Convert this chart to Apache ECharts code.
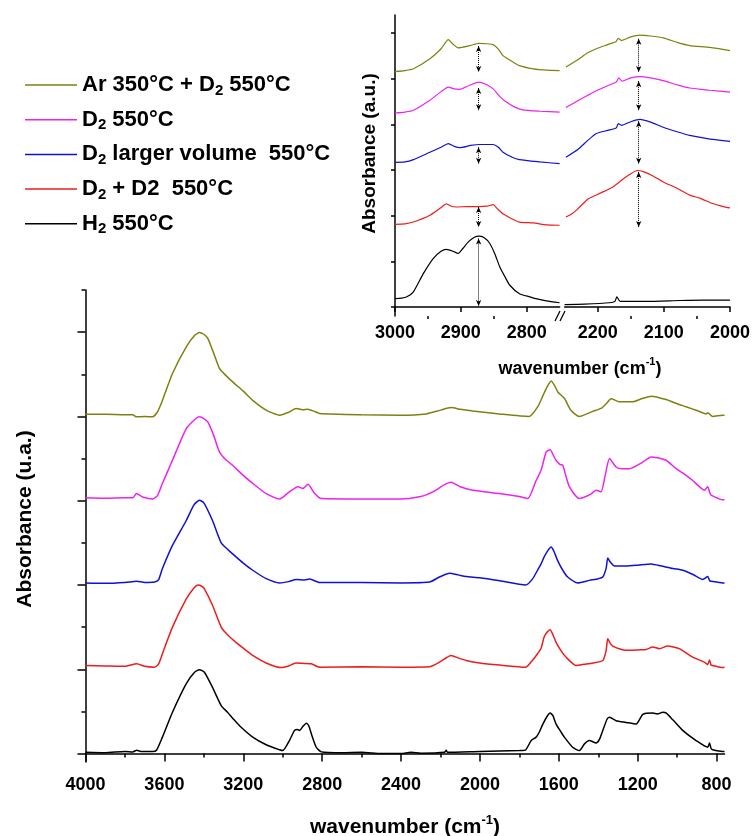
<!DOCTYPE html>
<html><head><meta charset="utf-8">
<script src="https://cdn.jsdelivr.net/npm/echarts@6/dist/echarts.min.js"></script>
<style>html,body{margin:0;padding:0;background:#fff}#c{width:752px;height:836px}</style>
</head><body><div id="c"></div>
<script>
// ---------- DATA ----------
const seriesNames = ['Ar 350°C + D2 550°C', 'D2 550°C', 'D2 larger volume  550°C', 'D2 + D2  550°C', 'H2 550°C'];
const seriesColors = ['#808010', '#ee22ee', '#1010d8', '#ee1c1c', '#000000'];
const mainOffsets = [8, 6, 4, 2, 0];

// main spectra: [wavenumber, absorbance relative to own baseline]
const oliveMain = [[4000,0.05],[3900,0.05],[3800,0.04],[3761,0.04],[3741,-0.01],[3700,0.0],[3660,-0.01],[3635,0.11],[3610,0.38],[3559,1.02],[3489,1.65],[3445,1.93],[3422,1.99],[3400,1.95],[3380,1.85],[3350,1.5],[3321,1.14],[3290,0.98],[3254,0.82],[3200,0.6],[3152,0.38],[3084,0.15],[3016,0.03],[2970,0.1],[2932,0.19],[2900,0.16],[2872,0.17],[2840,0.12],[2813,0.07],[2600,0.04],[2408,0.03],[2273,0.06],[2200,0.15],[2146,0.21],[2100,0.17],[2036,0.13],[1901,0.06],[1750,0.0],[1707,0.23],[1680,0.5],[1664,0.66],[1639,0.84],[1620,0.72],[1605,0.58],[1572,0.43],[1538,0.14],[1496,0.0],[1428,0.12],[1386,0.19],[1360,0.3],[1335,0.42],[1293,0.35],[1225,0.35],[1180,0.42],[1132,0.48],[1056,0.4],[1000,0.3],[955,0.23],[900,0.14],[853,0.06],[845,0.09],[820,0.0],[769,0.03],[760,0.03]];
const magentaMain = [[4000,0.07],[3900,0.06],[3800,0.07],[3761,0.07],[3741,0.17],[3711,0.09],[3660,0.04],[3635,0.12],[3610,0.41],[3559,0.96],[3489,1.71],[3440,1.95],[3422,1.99],[3400,1.95],[3380,1.87],[3350,1.55],[3321,1.16],[3290,0.98],[3254,0.84],[3200,0.6],[3152,0.41],[3084,0.17],[3016,0.04],[2966,0.21],[2923,0.33],[2898,0.29],[2872,0.39],[2838,0.17],[2804,0.05],[2600,0.04],[2408,0.04],[2300,0.1],[2239,0.21],[2180,0.38],[2146,0.44],[2100,0.33],[2036,0.25],[1901,0.17],[1800,0.1],[1758,0.05],[1715,0.48],[1690,0.72],[1664,1.16],[1644,1.21],[1625,1.05],[1614,0.96],[1595,0.86],[1580,0.84],[1565,0.6],[1546,0.33],[1496,0.05],[1440,0.15],[1411,0.25],[1386,0.21],[1365,0.6],[1343,1.0],[1310,0.8],[1280,0.76],[1242,0.76],[1180,0.9],[1132,1.04],[1100,1.02],[1056,0.96],[1005,0.76],[960,0.62],[921,0.48],[862,0.25],[845,0.33],[835,0.2],[828,0.13],[790,0.05],[769,0.02],[760,0.02]];
const blueMain = [[4000,0.05],[3900,0.04],[3800,0.06],[3740,0.09],[3700,0.06],[3650,0.07],[3630,0.12],[3610,0.39],[3559,0.94],[3489,1.53],[3450,1.9],[3422,2.01],[3400,1.95],[3356,1.53],[3312,1.0],[3280,0.85],[3254,0.74],[3200,0.52],[3152,0.35],[3084,0.15],[3016,0.05],[2970,0.08],[2932,0.13],[2890,0.12],[2863,0.14],[2813,0.06],[2600,0.06],[2400,0.05],[2256,0.07],[2205,0.19],[2154,0.28],[2110,0.24],[2070,0.2],[2002,0.17],[1900,0.1],[1768,0.0],[1734,0.14],[1708,0.35],[1690,0.5],[1675,0.66],[1655,0.82],[1639,0.9],[1625,0.8],[1606,0.58],[1580,0.35],[1555,0.19],[1504,0.05],[1445,0.11],[1400,0.15],[1377,0.19],[1360,0.4],[1352,0.64],[1340,0.55],[1318,0.45],[1259,0.45],[1200,0.47],[1132,0.5],[1080,0.45],[1022,0.39],[972,0.35],[920,0.25],[870,0.13],[845,0.2],[835,0.1],[828,0.09],[769,0.05],[760,0.05]];
const redMain = [[4000,0.09],[3900,0.08],[3800,0.07],[3740,0.13],[3700,0.07],[3650,0.05],[3630,0.12],[3610,0.37],[3559,1.0],[3489,1.67],[3450,1.93],[3430,2.0],[3410,1.97],[3397,1.91],[3356,1.52],[3312,1.0],[3280,0.82],[3237,0.64],[3200,0.5],[3152,0.33],[3084,0.15],[3008,0.04],[2970,0.08],[2932,0.15],[2890,0.14],[2855,0.13],[2813,0.05],[2600,0.06],[2400,0.05],[2256,0.06],[2205,0.17],[2146,0.33],[2110,0.27],[2070,0.21],[2002,0.15],[1900,0.1],[1768,0.05],[1734,0.21],[1708,0.37],[1690,0.5],[1675,0.76],[1660,0.88],[1644,0.94],[1630,0.82],[1614,0.64],[1590,0.45],[1564,0.29],[1513,0.09],[1470,0.12],[1428,0.15],[1377,0.21],[1360,0.45],[1352,0.73],[1340,0.62],[1326,0.55],[1290,0.48],[1259,0.45],[1200,0.46],[1157,0.47],[1124,0.53],[1090,0.49],[1048,0.55],[1020,0.53],[989,0.49],[921,0.29],[862,0.17],[845,0.11],[836,0.22],[828,0.1],[820,0.09],[769,0.04],[760,0.05]];
const blackMain = [[4000,0.03],[3900,0.02],[3800,0.05],[3760,0.04],[3740,0.08],[3720,0.05],[3660,0.05],[3640,0.08],[3610,0.39],[3559,0.98],[3489,1.66],[3447,1.93],[3422,1.99],[3397,1.93],[3356,1.57],[3312,1.14],[3280,0.98],[3254,0.84],[3219,0.66],[3152,0.39],[3084,0.21],[3016,0.09],[3000,0.07],[2966,0.31],[2940,0.55],[2925,0.57],[2915,0.55],[2895,0.66],[2880,0.72],[2868,0.66],[2855,0.47],[2830,0.15],[2804,0.04],[2700,0.02],[2600,0.03],[2500,0.0],[2400,0.0],[2350,0.03],[2300,0.01],[2180,0.03],[2171,0.08],[2165,0.03],[2000,0.05],[1800,0.07],[1770,0.08],[1740,0.31],[1715,0.39],[1700,0.5],[1681,0.7],[1660,0.88],[1644,0.96],[1630,0.9],[1614,0.7],[1590,0.52],[1572,0.39],[1530,0.15],[1496,0.07],[1470,0.23],[1445,0.31],[1411,0.25],[1395,0.33],[1377,0.55],[1355,0.82],[1343,0.86],[1310,0.78],[1259,0.74],[1208,0.7],[1174,0.93],[1124,0.96],[1100,0.94],[1073,0.98],[1055,0.96],[1022,0.8],[972,0.55],[904,0.31],[845,0.15],[836,0.25],[828,0.12],[820,0.09],[769,0.05],[760,0.05]];
const mainSpectra = [oliveMain, magentaMain, blueMain, redMain, blackMain];

// inset spectra (absolute inset units), left part 3000-2750, right part 2250-2000
const oliveInsetL = [[3000,5.16],[2985,5.18],[2972,5.22],[2947,5.44],[2930,5.66],[2919,5.86],[2912,5.76],[2904,5.68],[2886,5.73],[2873,5.78],[2860,5.77],[2851,5.75],[2843,5.65],[2836,5.51],[2822,5.38],[2811,5.29],[2790,5.22],[2770,5.19],[2750,5.18]];
const oliveInsetR = [[2248,5.26],[2230,5.42],[2215,5.57],[2202,5.66],[2185,5.75],[2172,5.82],[2169,5.89],[2164,5.84],[2150,5.92],[2136,5.96],[2120,5.94],[2101,5.9],[2080,5.8],[2061,5.73],[2030,5.69],[2000,5.62]];
const magentaInsetL = [[3000,4.25],[2985,4.27],[2972,4.31],[2947,4.53],[2930,4.72],[2919,4.82],[2910,4.78],[2902,4.77],[2888,4.85],[2873,4.93],[2862,4.88],[2851,4.78],[2840,4.6],[2831,4.49],[2818,4.38],[2806,4.32],[2780,4.29],[2750,4.27]];
const magentaInsetR = [[2248,4.37],[2230,4.52],[2215,4.64],[2202,4.74],[2185,4.85],[2172,4.93],[2168,5.02],[2163,4.95],[2150,5.02],[2136,5.05],[2120,5.02],[2101,4.96],[2080,4.87],[2061,4.8],[2030,4.75],[2000,4.71]];
const blueInsetL = [[3000,3.17],[2985,3.18],[2972,3.23],[2947,3.39],[2930,3.5],[2919,3.58],[2910,3.52],[2902,3.49],[2885,3.54],[2871,3.56],[2851,3.56],[2843,3.5],[2836,3.39],[2822,3.28],[2811,3.23],[2780,3.18],[2750,3.14]];
const blueInsetR = [[2248,3.28],[2230,3.45],[2215,3.65],[2202,3.8],[2185,3.87],[2172,3.92],[2169,4.02],[2164,3.98],[2150,4.06],[2136,4.11],[2120,4.05],[2101,3.94],[2080,3.84],[2061,3.76],[2030,3.68],[2000,3.63]];
const redInsetL = [[3000,1.81],[2985,1.82],[2972,1.86],[2947,2.01],[2930,2.18],[2922,2.26],[2914,2.2],[2907,2.19],[2890,2.2],[2873,2.2],[2860,2.21],[2851,2.24],[2845,2.16],[2836,2.04],[2825,1.95],[2811,1.86],[2790,1.84],[2770,1.8],[2750,1.79]];
const redInsetR = [[2248,1.97],[2240,2.03],[2230,2.15],[2214,2.37],[2195,2.5],[2177,2.63],[2160,2.82],[2150,2.92],[2140,2.99],[2130,2.96],[2115,2.86],[2101,2.74],[2080,2.6],[2061,2.45],[2045,2.38],[2025,2.26],[2010,2.2],[2000,2.17]];
const blackInsetL = [[3000,0.18],[2990,0.19],[2982,0.22],[2972,0.33],[2957,0.73],[2942,1.06],[2930,1.22],[2922,1.26],[2912,1.22],[2904,1.17],[2897,1.28],[2889,1.42],[2880,1.52],[2873,1.55],[2865,1.52],[2856,1.39],[2848,1.15],[2841,0.88],[2833,0.66],[2826,0.48],[2811,0.29],[2795,0.22],[2786,0.18],[2770,0.13],[2750,0.09]];
const blackInsetR = [[2250,0.05],[2220,0.06],[2182,0.09],[2174,0.12],[2171,0.22],[2166,0.12],[2150,0.12],[2126,0.12],[2076,0.14],[2040,0.15],[2000,0.15]];
const insetLeft = [oliveInsetL, magentaInsetL, blueInsetL, redInsetL, blackInsetL];
const insetRight = [oliveInsetR, magentaInsetR, blueInsetR, redInsetR, blackInsetR];

// peak-height arrows in inset: [wavenumber, top, bottom] per series (null = none)
const arrowLeft = [[2873,5.72,5.15],[2873,4.8,4.31],[2873,3.5,3.14],[2873,2.19,1.75],[2873,1.5,0.02]];
const arrowRight = [[2138,5.88,5.15],[2138,4.95,4.31],[2138,4.07,3.14],[2138,2.96,1.75],null];

// tick labels
const mainXLabels = [4000,3600,3200,2800,2400,2000,1600,1200,800];
const mainXMinor = [3800,3400,3000,2600,2200,1800,1400,1000];
const mainYMajor = [0,2,4,6,8,10];
const mainYMinor = [1,3,5,7,9,11];
const insetLLabels = [3000,2900,2800];
const insetLMinor = [2950,2850];
const insetRLabels = [2200,2100,2000];
const insetRMinor = [2150,2050];
const insetYTicks = [0,1,2,3,4,5,6];

// ---------- CHART ----------
const FONT = 'Liberation Sans, Arial, sans-serif';
const legendText = {
  'Ar 350°C + D2 550°C': '{t|Ar 350°C + D}{s|2}{t| 550°C}',
  'D2 550°C': '{t|D}{s|2}{t| 550°C}',
  'D2 larger volume  550°C': '{t|D}{s|2}{t| larger volume  550°C}',
  'D2 + D2  550°C': '{t|D}{s|2}{t| + D2  550°C}',
  'H2 550°C': '{t|H}{s|2}{t| 550°C}'
};
const series = [];
seriesNames.forEach((name, i) => {
  const c = seriesColors[i];
  series.push({
    type: 'line', name, xAxisIndex: 0, yAxisIndex: 0, symbol: 'none', smooth: 0.2,
    data: mainSpectra[i].map(p => [p[0], p[1] + mainOffsets[i]]),
    lineStyle: { color: c, width: 1.5 }, itemStyle: { color: c }
  });
});
const arrowStyle = { symbol: ['arrow', 'arrow'], symbolSize: [4, 6], silent: true, animation: false,
  label: { show: false }, lineStyle: { color: '#000', type: 'dotted', width: 1 } };
seriesNames.forEach((name, i) => {
  const c = seriesColors[i];
  const a = arrowLeft[i];
  series.push({
    type: 'line', name, xAxisIndex: 2, yAxisIndex: 2, symbol: 'none', smooth: 0.2,
    data: insetLeft[i], lineStyle: { color: c, width: 1.2 }, itemStyle: { color: c },
    markLine: a ? Object.assign({ data: [[{ coord: [a[0], a[1]] }, { coord: [a[0], a[2]] }]] }, arrowStyle) : undefined
  });
});
seriesNames.forEach((name, i) => {
  const c = seriesColors[i];
  const a = arrowRight[i];
  series.push({
    type: 'line', name, xAxisIndex: 4, yAxisIndex: 3, symbol: 'none', smooth: 0.2,
    data: insetRight[i], lineStyle: { color: c, width: 1.2 }, itemStyle: { color: c },
    markLine: a ? Object.assign({ data: [[{ coord: [a[0], a[1]] }, { coord: [a[0], a[2]] }]] }, arrowStyle) : undefined
  });
});

const axisLineBlack = { show: true, lineStyle: { color: '#000', width: 1.5 } };
const noLine = { show: false };
function xAx(grid, min, max, ticks, len, labels, fs, margin, extra) {
  return Object.assign({
    type: 'value', gridIndex: grid, min, max, inverse: true, position: 'bottom',
    axisLine: labels ? axisLineBlack : noLine, splitLine: { show: false },
    axisTick: { show: true, customValues: ticks, length: len, lineStyle: { color: '#000', width: 1.5 } },
    axisLabel: labels ? { show: true, customValues: labels, formatter: v => String(v), color: '#000', fontFamily: FONT, fontWeight: 'bold', fontSize: fs, margin } : { show: false }
  }, extra || {});
}
function yAx(grid, min, max, ticks, len, showLine, extra) {
  return Object.assign({
    type: 'value', gridIndex: grid, min, max, position: 'left',
    axisLine: showLine ? axisLineBlack : noLine, splitLine: { show: false },
    axisTick: ticks ? { show: true, customValues: ticks, length: len, lineStyle: { color: '#000', width: 1.5 } } : { show: false },
    axisLabel: { show: false }
  }, extra || {});
}

const option = {
  animation: false,
  backgroundColor: '#fff',
  grid: [
    { left: 85.5, top: 290, width: 639, height: 472, outerBoundsMode: 'none', containLabel: false },
    { left: 395, top: 15, width: 164.6, height: 301, outerBoundsMode: 'none', containLabel: false },
    { left: 564.6, top: 15, width: 165.4, height: 301, outerBoundsMode: 'none', containLabel: false }
  ],
  legend: {
    orient: 'vertical', left: 25, top: 74, padding: 0, itemWidth: 52, itemHeight: 1.5, itemGap: 10.7,
    icon: 'rect',
    data: seriesNames, selectedMode: false,
    formatter: n => legendText[n],
    textStyle: {
      rich: {
        t: { fontFamily: FONT, fontWeight: 'bold', fontSize: 22, color: '#000', lineHeight: 26, verticalAlign: 'middle' },
        s: { fontFamily: FONT, fontWeight: 'bold', fontSize: 15, color: '#000', lineHeight: 14, verticalAlign: 'bottom' }
      }
    }
  },
  xAxis: [
    xAx(0, 760, 4000, mainXLabels, 8, mainXLabels, 18, 14, {
      name: '{t|wavenumber (cm}{u|-1}{t|)}', nameLocation: 'middle', nameGap: 52,
      nameTextStyle: { rich: {
        t: { fontFamily: FONT, fontWeight: 'bold', fontSize: 21, color: '#000', lineHeight: 24, verticalAlign: 'bottom' },
        u: { fontFamily: FONT, fontWeight: 'bold', fontSize: 13, color: '#000', lineHeight: 24, verticalAlign: 'top' } } }
    }),
    xAx(0, 760, 4000, mainXMinor, 4, null, 18, 14),
    xAx(1, 2750, 3000, insetLLabels, 5, insetLLabels, 18, 8),
    xAx(1, 2750, 3000, insetLMinor, 3, null, 18, 8),
    xAx(2, 2000, 2250, insetRLabels, 5, insetRLabels, 18, 8),
    xAx(2, 2000, 2250, insetRMinor, 3, null, 18, 8)
  ],
  yAxis: [
    yAx(0, -0.2, 11, mainYMajor, 8, true, {
      name: 'Absorbance (u.a.)', nameLocation: 'middle', nameGap: 50,
      nameTextStyle: { fontFamily: FONT, fontWeight: 'bold', fontSize: 21, color: '#000', padding: [0, 0, 0, 14] }
    }),
    yAx(0, -0.2, 11, mainYMinor, 4, false),
    yAx(1, -0.2, 6.4, insetYTicks, 4, true, {
      name: 'Absorbance (a.u.)', nameLocation: 'middle', nameGap: 16,
      nameTextStyle: { fontFamily: FONT, fontWeight: 'bold', fontSize: 19, color: '#000', padding: [0, 0, 0, 24] }
    }),
    yAx(2, -0.2, 6.4, null, 0, false)
  ],
  graphic: [
    { type: 'line', shape: { x1: 555, y1: 321, x2: 560, y2: 311 }, style: { stroke: '#000', lineWidth: 1.2 } },
    { type: 'line', shape: { x1: 560, y1: 321, x2: 565, y2: 311 }, style: { stroke: '#000', lineWidth: 1.2 } },
    { type: 'text', x: 580, y: 367, style: {
        text: '{t|wavenumber (cm}{u|-1}{t|)}', align: 'center', verticalAlign: 'middle',
        rich: {
          t: { fontFamily: FONT, fontWeight: 'bold', fontSize: 18, fill: '#000', lineHeight: 22, verticalAlign: 'bottom' },
          u: { fontFamily: FONT, fontWeight: 'bold', fontSize: 11, fill: '#000', lineHeight: 22, verticalAlign: 'top' }
        } } }
  ],
  series
};
const chart = echarts.init(document.getElementById('c'), null, { renderer: 'canvas' });
chart.setOption(option);
</script>
</body></html>
